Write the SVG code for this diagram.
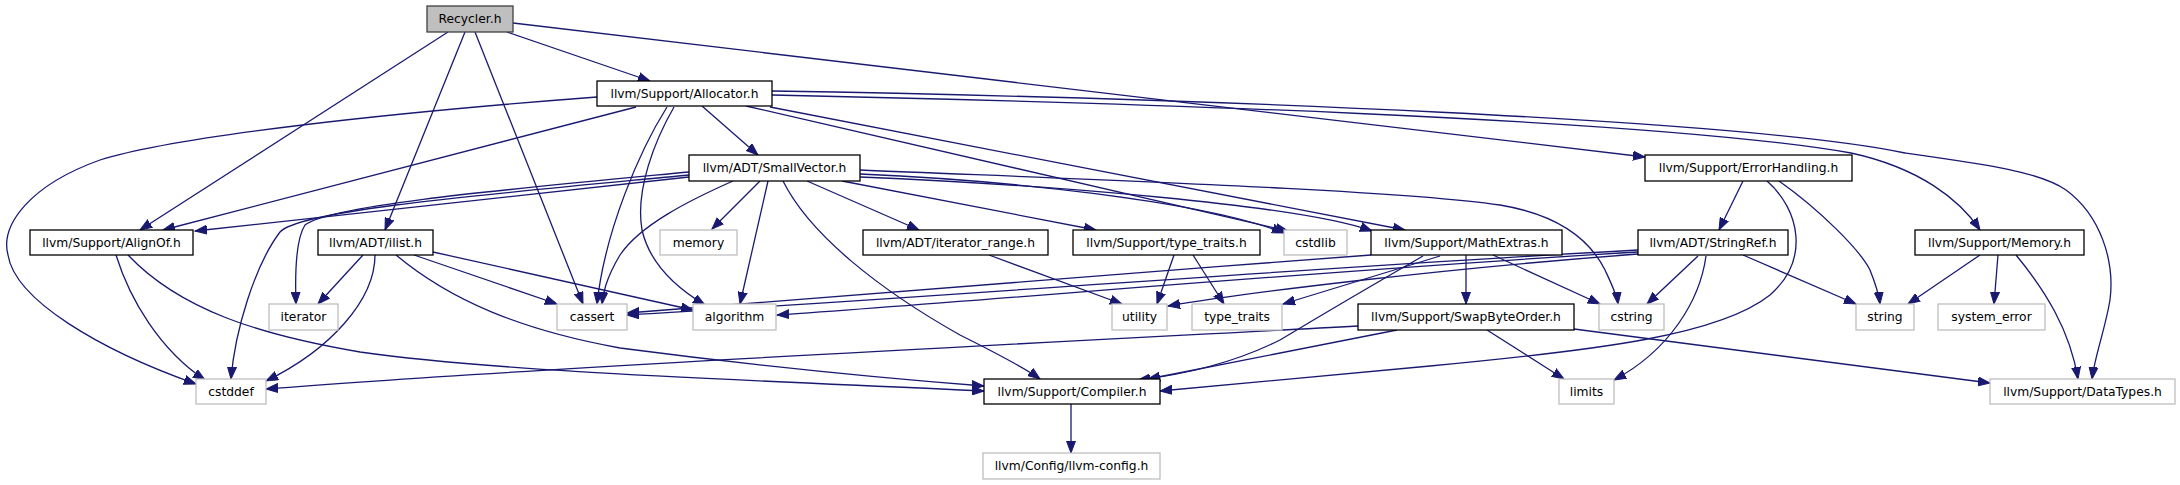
<svg xmlns="http://www.w3.org/2000/svg" width="2180" height="485" viewBox="0 0 2180 485">
<style>
.n rect{fill:#fff;stroke:#000;stroke-width:1.3}
.g rect{fill:#fff;stroke:#bfbfbf;stroke-width:1.3}
.r rect{fill:#bfbfbf;stroke:#404040;stroke-width:1.3}
text{font-family:"DejaVu Sans","Liberation Sans",sans-serif;font-size:12.3px;fill:#000;text-anchor:middle}
#edges path{fill:none;stroke:#191970;stroke-width:1.3;marker-end:url(#a)}
</style>
<defs>
<marker id="a" markerWidth="13" markerHeight="10" refX="12" refY="5" orient="auto" markerUnits="userSpaceOnUse"><path d="M0,0.5 L12,5 L0,9.5 z" fill="#191970" stroke="#191970" stroke-width="1"/></marker>
</defs>
<rect width="2180" height="485" fill="#fff"/>
<g id="edges">
<path d="M507,32 L650,81"/>
<path d="M448,32 L140,230"/>
<path d="M465,32 L385,230"/>
<path d="M475,32 L583,304"/>
<path d="M513,23 L1645,157"/>
<path d="M597,97 C400,112 180,135 100,160 C30,185 0,225 8,255 C15,300 100,350 196,384"/>
<path d="M636,107 L163,230"/>
<path d="M667,107 C640,150 605,230 597,304"/>
<path d="M674,107 C655,140 635,190 642,230 C650,265 680,290 705,305"/>
<path d="M702,106 L758,155"/>
<path d="M746,106 L1288,231"/>
<path d="M770,107 L1405,230"/>
<path d="M772,95 C1100,102 1650,118 1851,153 C1920,168 1960,200 1980,230"/>
<path d="M772,91 C1200,98 1750,120 1905,153 C1990,165 2040,172 2066,190 C2100,215 2115,260 2110,300 C2105,330 2095,355 2092,379"/>
<path d="M689,177 L195,231"/>
<path d="M689,172 C500,190 330,205 305,225 C295,240 295,275 296,304"/>
<path d="M689,175 C480,195 300,210 280,232 C255,265 235,330 231,379"/>
<path d="M760,181 L712,229"/>
<path d="M768,181 L740,304"/>
<path d="M733,181 C690,200 640,225 620,255 C605,280 603,295 602,304"/>
<path d="M783,181 C810,235 880,290 960,335 C1000,355 1025,368 1040,379"/>
<path d="M807,181 L919,230"/>
<path d="M842,181 L1096,230"/>
<path d="M860,174 C1000,180 1200,200 1284,233"/>
<path d="M860,177 C1050,185 1300,205 1372,231"/>
<path d="M860,170 C1100,180 1400,190 1500,205 C1560,215 1590,240 1605,270 C1612,285 1617,295 1618,304"/>
<path d="M1743,181 L1719,230"/>
<path d="M1767,181 C1800,210 1810,260 1770,295 C1720,335 1600,350 1430,366 C1300,378 1220,385 1160,391"/>
<path d="M1779,181 C1820,210 1860,250 1870,270 C1876,285 1879,295 1880,304"/>
<path d="M116,255 C130,300 160,350 205,380"/>
<path d="M128,255 C180,310 260,335 360,352 C500,372 750,380 984,391"/>
<path d="M363,255 L318,304"/>
<path d="M375,255 C375,300 330,350 266,381"/>
<path d="M414,255 L557,304"/>
<path d="M433,252 L693,310"/>
<path d="M396,255 C450,300 520,330 620,348 C750,365 880,378 984,386"/>
<path d="M1466,255 L1466,304"/>
<path d="M1493,255 L1600,304"/>
<path d="M1440,256 L1283,304"/>
<path d="M1423,256 C1390,275 1330,310 1280,340 C1230,365 1180,375 1138,380"/>
<path d="M1371,255 C1100,275 800,300 627,313"/>
<path d="M1638,250 C1300,268 900,300 627,315"/>
<path d="M1638,252 C1300,272 1000,300 777,315"/>
<path d="M1638,254 C1450,268 1250,292 1168,306"/>
<path d="M1698,256 L1647,304"/>
<path d="M1706,256 C1700,300 1670,350 1614,380"/>
<path d="M1743,255 L1856,304"/>
<path d="M1358,326 C1000,345 500,370 266,389"/>
<path d="M1397,330 L1148,379"/>
<path d="M1487,330 L1564,379"/>
<path d="M1574,329 L1990,383"/>
<path d="M1980,255 L1908,304"/>
<path d="M1998,255 L1994,304"/>
<path d="M2016,255 C2045,290 2070,330 2078,379"/>
<path d="M1174,255 L1157,304"/>
<path d="M1193,255 L1224,304"/>
<path d="M989,255 L1122,304"/>
<path d="M1071,404 L1071,453"/>
</g>
<g id="recycler" class="r"><rect x="427" y="6" width="86" height="26"/><text x="470" y="23">Recycler.h</text></g>
<g id="allocator" class="n"><rect x="597" y="81" width="175" height="25"/><text x="684.5" y="97.5">llvm/Support/Allocator.h</text></g>
<g id="smallvector" class="n"><rect x="689" y="155" width="171" height="26"/><text x="774.5" y="172">llvm/ADT/SmallVector.h</text></g>
<g id="errorhandling" class="n"><rect x="1645" y="155" width="207" height="26"/><text x="1748.5" y="172">llvm/Support/ErrorHandling.h</text></g>
<g id="alignof" class="n"><rect x="30" y="230" width="163" height="25"/><text x="111.5" y="246.5">llvm/Support/AlignOf.h</text></g>
<g id="ilist" class="n"><rect x="318" y="230" width="115" height="25"/><text x="375.5" y="246.5">llvm/ADT/ilist.h</text></g>
<g id="memory" class="g"><rect x="660" y="230" width="77" height="25"/><text x="698.5" y="246.5">memory</text></g>
<g id="iterator_range" class="n"><rect x="863" y="230" width="185" height="25"/><text x="955.5" y="246.5">llvm/ADT/iterator_range.h</text></g>
<g id="type_traits_h" class="n"><rect x="1073" y="230" width="187" height="25"/><text x="1166.5" y="246.5">llvm/Support/type_traits.h</text></g>
<g id="cstdlib" class="g"><rect x="1284" y="230" width="63" height="25"/><text x="1315.5" y="246.5">cstdlib</text></g>
<g id="mathextras" class="n"><rect x="1371" y="230" width="191" height="25"/><text x="1466.5" y="246.5">llvm/Support/MathExtras.h</text></g>
<g id="stringref" class="n"><rect x="1638" y="230" width="150" height="25"/><text x="1713" y="246.5">llvm/ADT/StringRef.h</text></g>
<g id="memory_h" class="n"><rect x="1915" y="230" width="169" height="25"/><text x="1999.5" y="246.5">llvm/Support/Memory.h</text></g>
<g id="iterator" class="g"><rect x="269" y="304" width="69" height="26"/><text x="303.5" y="321">iterator</text></g>
<g id="cassert" class="g"><rect x="557" y="304" width="70" height="26"/><text x="592" y="321">cassert</text></g>
<g id="algorithm" class="g"><rect x="693" y="304" width="83" height="26"/><text x="734.5" y="321">algorithm</text></g>
<g id="utility" class="g"><rect x="1112" y="304" width="55" height="26"/><text x="1139.5" y="321">utility</text></g>
<g id="type_traits" class="g"><rect x="1192" y="304" width="90" height="26"/><text x="1237" y="321">type_traits</text></g>
<g id="swapbyteorder" class="n"><rect x="1358" y="304" width="216" height="26"/><text x="1466" y="321">llvm/Support/SwapByteOrder.h</text></g>
<g id="cstring" class="g"><rect x="1599" y="304" width="65" height="26"/><text x="1631.5" y="321">cstring</text></g>
<g id="string" class="g"><rect x="1856" y="304" width="58" height="26"/><text x="1885" y="321">string</text></g>
<g id="system_error" class="g"><rect x="1938" y="304" width="107" height="26"/><text x="1991.5" y="321">system_error</text></g>
<g id="cstddef" class="g"><rect x="196" y="379" width="70" height="25"/><text x="231" y="395.5">cstddef</text></g>
<g id="compiler" class="n"><rect x="984" y="379" width="176" height="25"/><text x="1072" y="395.5">llvm/Support/Compiler.h</text></g>
<g id="limits" class="g"><rect x="1559" y="379" width="55" height="25"/><text x="1586.5" y="395.5">limits</text></g>
<g id="datatypes" class="g"><rect x="1990" y="379" width="185" height="25"/><text x="2082.5" y="395.5">llvm/Support/DataTypes.h</text></g>
<g id="llvmconfig" class="g"><rect x="983" y="453" width="177" height="26"/><text x="1071.5" y="470">llvm/Config/llvm-config.h</text></g>
</svg>
